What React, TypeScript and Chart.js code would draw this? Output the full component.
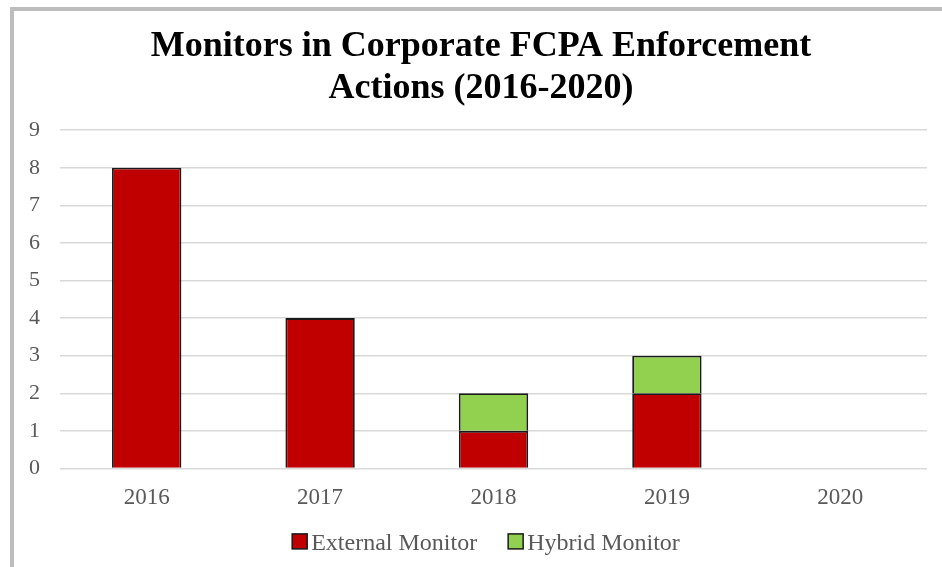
import React, { useEffect, useRef } from "react";
import { Chart, registerables } from "chart.js";

Chart.register(...registerables);

const categories = ["2016", "2017", "2018", "2019", "2020"];
const externalMonitor = [8, 4, 1, 2, 0];
const hybridMonitor = [0, 0, 1, 1, 0];
const yTicks = [0, 1, 2, 3, 4, 5, 6, 7, 8, 9];
const titleLines = ["Monitors in Corporate FCPA Enforcement", "Actions (2016-2020)"];

const SERIF = "'Liberation Serif', 'Times New Roman', serif";

// Shift the title so it is centred over the whole picture rather than the plot area.
const titleShift = {
  id: "titleShift",
  afterLayout(chart: any) {
    if (chart.titleBlock) chart.titleBlock.left += 21;
  },
};

// Legend drawn below the x axis, Office-style (tight box/text gap, wide item gap).
const bottomLegend = {
  id: "bottomLegend",
  afterDraw(chart: any) {
    const ctx = chart.ctx;
    ctx.save();
    ctx.font = `24px ${SERIF}`;
    const box = 15;
    const gapText = 4;
    const gapItem = 31;
    const items = chart.data.datasets.map((ds: any) => ({
      label: ds.label,
      color: ds.backgroundColor,
      border: ds.borderColor,
      w: ctx.measureText(ds.label).width,
    }));
    const total =
      items.reduce((s: number, it: any) => s + box + gapText + it.w, 0) + gapItem * (items.length - 1);
    let x = chart.width / 2 + 8 - total / 2;
    const y = chart.chartArea.bottom + 73;
    items.forEach((it: any) => {
      ctx.fillStyle = it.color;
      ctx.fillRect(x, y - box / 2, box, box);
      ctx.strokeStyle = it.border;
      ctx.lineWidth = 1.5;
      ctx.strokeRect(x, y - box / 2, box, box);
      ctx.fillStyle = "#595959";
      ctx.textBaseline = "middle";
      ctx.textAlign = "left";
      ctx.fillText(it.label, x + box + gapText, y + 2);
      x += box + gapText + it.w + gapItem;
    });
    ctx.restore();
  },
};

export default function App() {
  const ref = useRef<HTMLCanvasElement | null>(null);

  useEffect(() => {
    if (!ref.current) return;
    const chart = new Chart(ref.current, {
      type: "bar",
      data: {
        labels: categories,
        datasets: [
          {
            label: "External Monitor",
            data: externalMonitor,
            backgroundColor: "#C00000",
            borderColor: "#1a1a1a",
            borderWidth: 1.8,
            barPercentage: 0.5,
            categoryPercentage: 0.8,
          },
          {
            label: "Hybrid Monitor",
            data: hybridMonitor,
            backgroundColor: "#92D050",
            borderColor: "#1a1a1a",
            borderWidth: 1.8,
            barPercentage: 0.5,
            categoryPercentage: 0.8,
          },
        ],
      },
      plugins: [titleShift, bottomLegend],
      options: {
        animation: false,
        responsive: false,
        maintainAspectRatio: false,
        layout: { padding: { left: 0, right: 15, top: 0, bottom: 39 } },
        plugins: {
          title: {
            display: true,
            text: titleLines,
            color: "#000000",
            font: { family: SERIF, size: 36, weight: "bold", lineHeight: 1.17 },
            padding: { top: 15, bottom: 20 },
          },
          legend: { display: false },
          tooltip: { enabled: false },
        },
        scales: {
          x: {
            stacked: true,
            grid: { display: false, drawTicks: false },
            border: { display: false },
            ticks: {
              color: "#595959",
              font: { family: SERIF, size: 23 },
              padding: 16,
            },
          },
          y: {
            stacked: true,
            min: 0,
            max: 9,
            afterBuildTicks: (scale: any) => {
              scale.ticks = yTicks.map((v) => ({ value: v }));
            },
            afterFit: (scale: any) => {
              scale.width = 46;
            },
            grid: { color: "#d9d9d9", lineWidth: 1.5, drawTicks: false },
            border: { display: false },
            ticks: {
              color: "#595959",
              font: { family: SERIF, size: 22 },
              padding: 20,
            },
          },
        },
      },
    });
    return () => chart.destroy();
  }, []);

  return (
    <div
      style={{
        position: "fixed",
        left: 0,
        top: 0,
        width: 942,
        height: 567,
        background: "#ffffff",
        overflow: "hidden",
      }}
    >
      <div style={{ position: "absolute", left: 10, top: 7, width: 932, height: 4, background: "#bdbdbd" }} />
      <div style={{ position: "absolute", left: 10, top: 7, width: 4, height: 560, background: "#bdbdbd" }} />
      <canvas
        ref={ref}
        width={928}
        height={556}
        style={{ position: "absolute", left: 14, top: 11, width: 928, height: 556 }}
      />
    </div>
  );
}
